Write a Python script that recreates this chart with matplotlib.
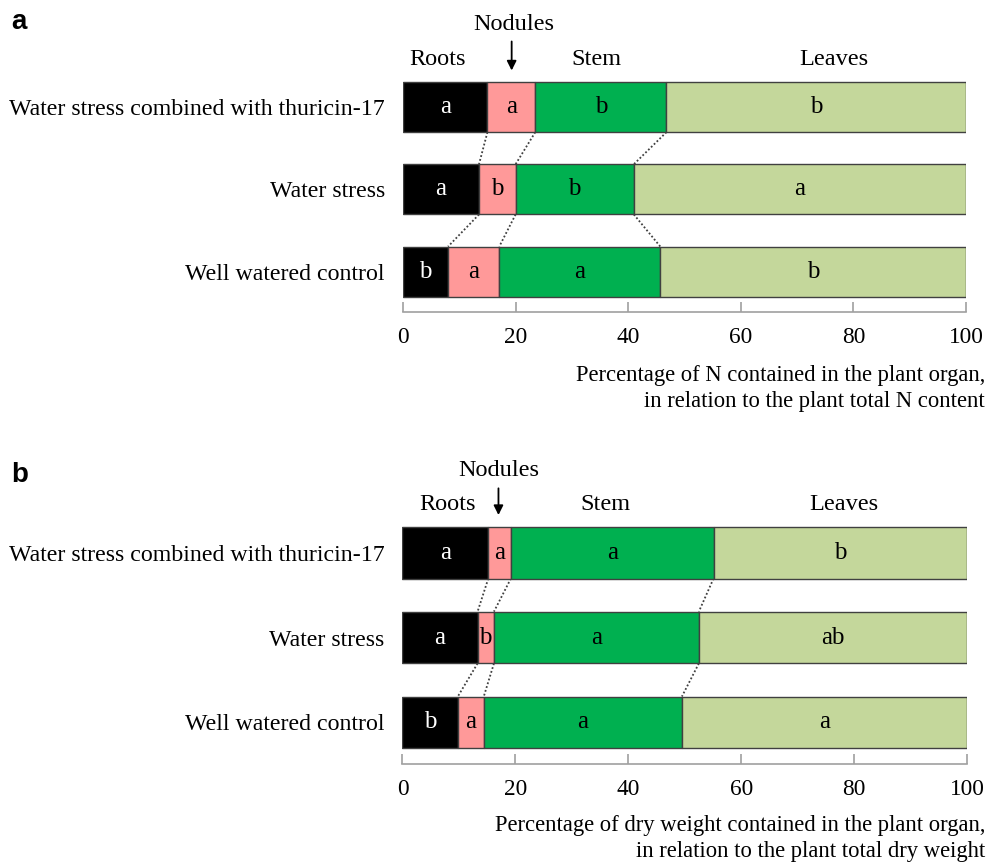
import matplotlib
matplotlib.use("Agg")
import matplotlib.pyplot as plt

plt.rcParams['font.family'] = ['Liberation Serif', 'DejaVu Serif']

# ---------------- data ----------------
categories = ["Well watered control", "Water stress", "Water stress combined with thuricin-17"]
organs = ["Roots", "Nodules", "Stem", "Leaves"]

# Panel a: % of N in organ (bottom-to-top order matching categories)
a_roots   = [8.0, 13.5, 15.0]
a_nodules = [9.1, 6.5, 8.5]
a_stem    = [28.6, 21.0, 23.3]
a_leaves  = [54.3, 59.0, 53.2]
a_letters = [["b", "a", "a", "b"],
             ["a", "b", "b", "a"],
             ["a", "a", "b", "b"]]

# Panel b: % of dry weight in organ
b_roots   = [9.8, 13.3, 15.2]
b_nodules = [4.6, 2.9, 4.0]
b_stem    = [35.1, 36.3, 35.9]
b_leaves  = [50.5, 47.5, 44.9]
b_letters = [["b", "a", "a", "a"],
             ["a", "b", "a", "ab"],
             ["a", "a", "a", "b"]]

ticks = [0, 20, 40, 60, 80, 100]
a_xlabel = ["Percentage of N contained in the plant organ,",
            "in relation to the plant total N content"]
b_xlabel = ["Percentage of dry weight contained in the plant organ,",
            "in relation to the plant total dry weight"]

colors = ["#000000", "#FF9999", "#00B050", "#C4D79B"]
text_colors = ["white", "black", "black", "black"]

W, H = 987, 868
fig = plt.figure(figsize=(W / 100, H / 100), dpi=100)

FS_CAT = 17.2
FS_TICK = 16.8
FS_HEAD = 17.5
FS_LET = 18
FS_XL = 16.3


def panel(rect, segs, letters, header):
    ax = fig.add_axes(rect)
    ypos = [0, 1, 2]
    height = 0.61
    lefts = [0, 0, 0]
    bounds = []
    for k in range(4):
        vals = segs[k]
        ax.barh(ypos, vals, left=lefts, height=height, color=colors[k],
                edgecolor="#404040", linewidth=1.0, zorder=2)
        for i in range(3):
            cx = lefts[i] + vals[i] / 2
            ax.text(cx, ypos[i], letters[i][k], ha="center", va="center",
                    color=text_colors[k], fontsize=FS_LET, zorder=3)
        lefts = [lefts[i] + vals[i] for i in range(3)]
        bounds.append(list(lefts))
    # dotted connectors
    for k in range(3):
        for i in range(2):
            ax.plot([bounds[k][i + 1], bounds[k][i]],
                    [ypos[i + 1] - height / 2, ypos[i] + height / 2],
                    ls=(0, (1, 1.2)), color="#404040", lw=1.3, zorder=1)
    ax.set_xlim(0, 100)
    ax.set_ylim(-0.49, 2.35)
    ax.set_yticks(ypos)
    ax.set_yticklabels(categories, fontsize=FS_CAT)
    ax.tick_params(axis="y", length=0, pad=13)
    ax.set_xticks(ticks)
    ax.set_xticklabels([str(t) for t in ticks], fontsize=FS_TICK)
    ax.tick_params(axis="x", direction="in", length=7, color="#A0A0A0",
                   width=1.2, pad=11)
    for s in ["top", "left", "right"]:
        ax.spines[s].set_visible(False)
    ax.spines["bottom"].set_color("#A0A0A0")
    ax.spines["bottom"].set_linewidth(1.2)
    for name, (hx, hy) in header.items():
        ax.text(hx, hy, name, ha="center", va="center", fontsize=FS_HEAD,
                clip_on=False)
    return ax


# panel a
axa = panel([403 / W, 1 - 312 / H, 563 / W, (312 - 78.2) / H],
            [a_roots, a_nodules, a_stem, a_leaves], a_letters,
            {"Roots": (6.2, 2.58), "Stem": (34.3, 2.58), "Leaves": (76.5, 2.58),
             "Nodules": (19.6, 3.0)})
axa.annotate("", xy=(19.3, 2.41), xytext=(19.3, 2.83),
             arrowprops=dict(arrowstyle="-|>", color="black", lw=1.3,
                             mutation_scale=14), annotation_clip=False)

# panel b
axb = panel([402.5 / W, 1 - 764 / H, 564.5 / W, (764 - 522.9) / H],
            [b_roots, b_nodules, b_stem, b_leaves], b_letters,
            {"Roots": (8.0, 2.57), "Stem": (35.9, 2.57), "Leaves": (78.1, 2.57),
             "Nodules": (17.0, 2.97)})
axb.annotate("", xy=(17.0, 2.41), xytext=(17.0, 2.79),
             arrowprops=dict(arrowstyle="-|>", color="black", lw=1.3,
                             mutation_scale=14), annotation_clip=False)

# x labels
fig.text(985 / W, 1 - 376 / H, a_xlabel[0], ha="right", va="center", fontsize=FS_XL)
fig.text(985 / W, 1 - 401 / H, a_xlabel[1], ha="right", va="center", fontsize=FS_XL)
fig.text(985 / W, 1 - 826 / H, b_xlabel[0], ha="right", va="center", fontsize=FS_XL)
fig.text(985 / W, 1 - 851 / H, b_xlabel[1], ha="right", va="center", fontsize=FS_XL)

# panel letters
fig.text(11 / W, 1 - 29 / H, "a", ha="left", va="baseline", fontsize=20,
         fontweight="bold", family="Liberation Sans")
fig.text(11 / W, 1 - 482 / H, "b", ha="left", va="baseline", fontsize=20,
         fontweight="bold", family="Liberation Sans")

fig.savefig("out.png", dpi=100)
